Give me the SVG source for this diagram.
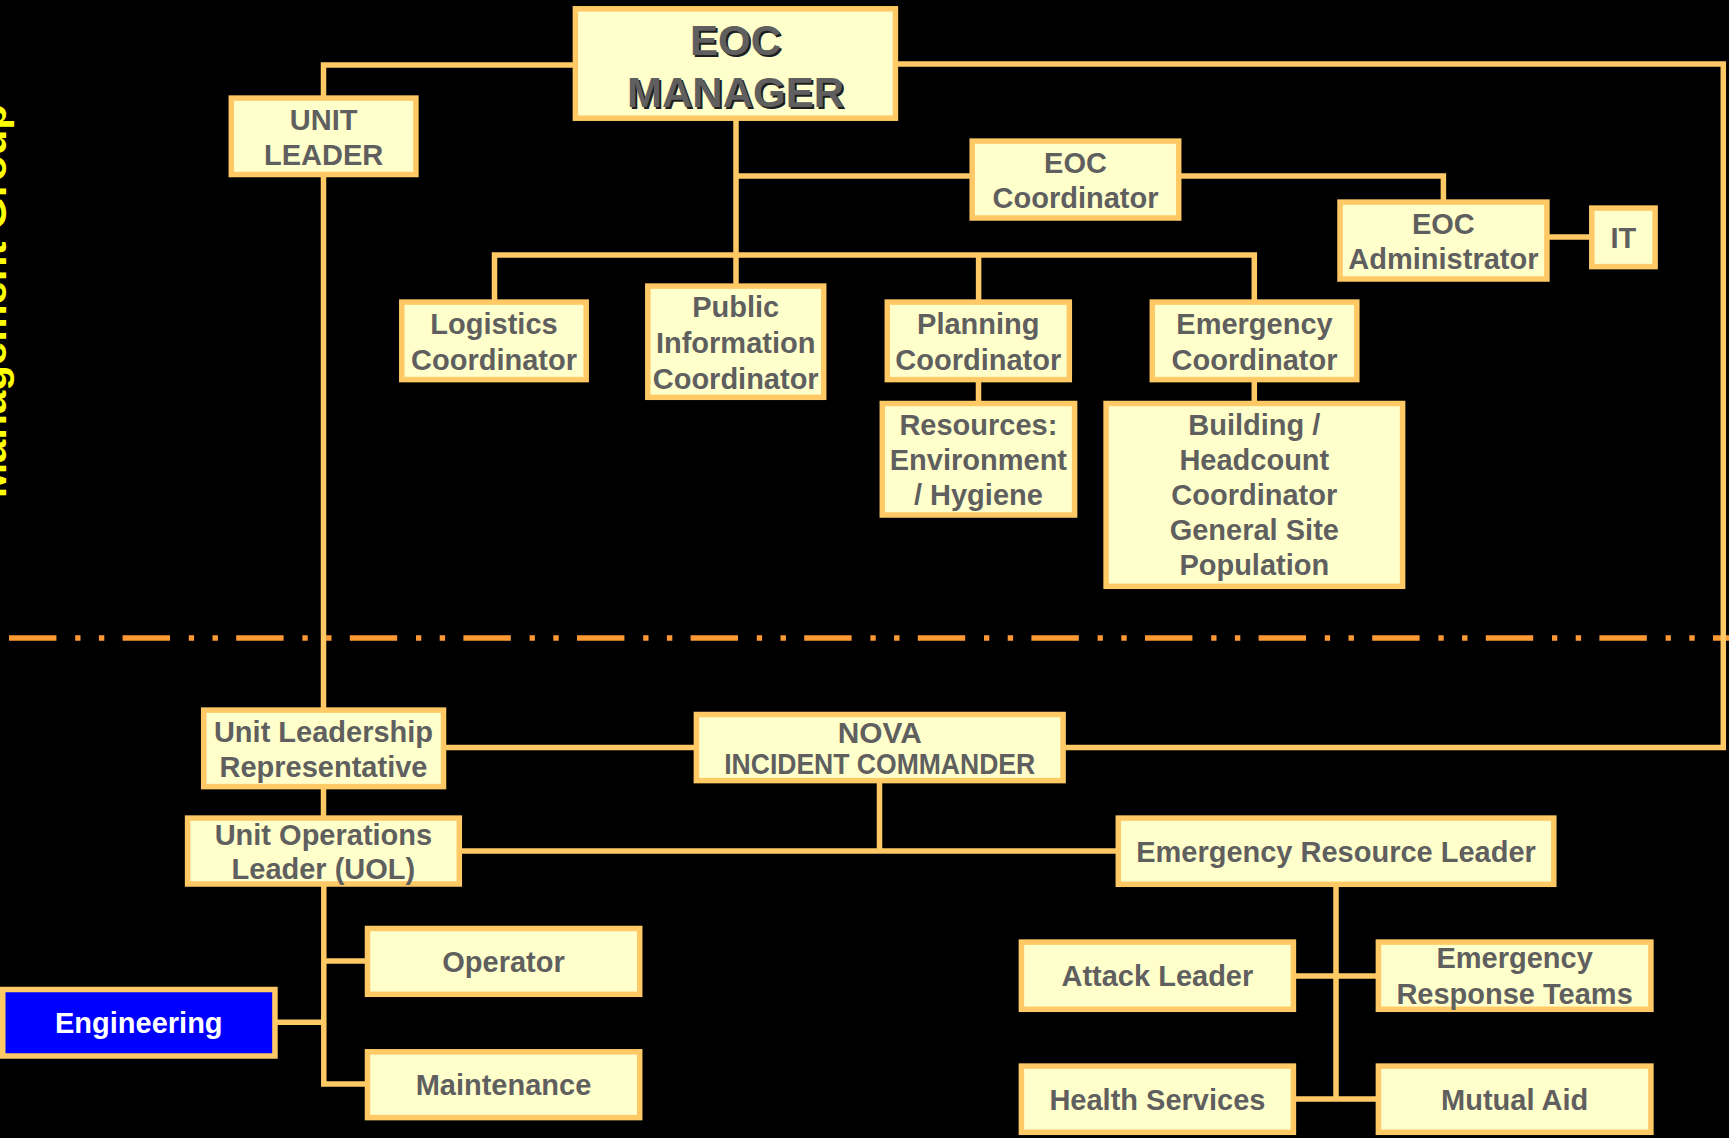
<svg xmlns="http://www.w3.org/2000/svg" width="1729" height="1138" viewBox="0 0 1729 1138">
<style>
.box{fill:#FFFFCC;stroke:#FFC965;stroke-width:5.5}
.eng{fill:#0000FF;stroke:#FFC965;stroke-width:5.5}
.t{font-family:"Liberation Sans",Arial,sans-serif;font-weight:bold;font-size:29px;fill:#5F5F5F;text-anchor:middle}
.tw{font-family:"Liberation Sans",Arial,sans-serif;font-weight:bold;font-size:29px;fill:#FFFFFF;text-anchor:middle}
.big{font-family:"Liberation Sans",Arial,sans-serif;font-weight:bold;font-size:42px;text-anchor:middle}
.c{fill:none;stroke:#FFC965;stroke-width:5.5;stroke-linejoin:miter;stroke-linecap:butt}
</style>
<rect x="0" y="0" width="1729" height="1138" fill="#000000"/>
<text x="0" y="0" transform="translate(6,498) rotate(-90)" font-family="Liberation Sans, Arial, sans-serif" font-weight="bold" font-size="40" fill="#FFFF00" textLength="394" lengthAdjust="spacingAndGlyphs">Management Group</text>
<line x1="9" y1="638" x2="1729" y2="638" stroke="#FF9933" stroke-width="5.6" stroke-dasharray="47.4 18.8 5.3 18.4 5.4 18.3"/>
<g id="connectors">
<path class="c" d="M323.5 98 V65 H575"/>
<path class="c" d="M323.5 175 V710"/>
<path class="c" d="M896 64 H1723.3 V747.5 H1063"/>
<path class="c" d="M736 119 V286"/>
<path class="c" d="M736 176 H972"/>
<path class="c" d="M1179 176 H1443.4 V202"/>
<path class="c" d="M1547 237 H1592"/>
<path class="c" d="M494.5 302 V255 H1254.3 V302"/>
<path class="c" d="M978.6 255 V302"/>
<path class="c" d="M978.5 380 V403"/>
<path class="c" d="M1254.3 380 V403"/>
<path class="c" d="M444 747.5 H696"/>
<path class="c" d="M323.5 787 V818"/>
<path class="c" d="M879.5 781 V851"/>
<path class="c" d="M460 851 H1118"/>
<path class="c" d="M323.8 884 V1084 H367"/>
<path class="c" d="M323.8 961 H367"/>
<path class="c" d="M275 1022.3 H323.8"/>
<path class="c" d="M1336 885 V1099"/>
<path class="c" d="M1294 976 H1378"/>
<path class="c" d="M1294 1099 H1378"/>
</g>
<g id="eoc-manager">
<rect class="box" x="575.4" y="8.8" width="320" height="109.4"/>
<text class="big" x="737.5" y="57" fill="#1E1E1E">EOC</text>
<text class="big" x="737.5" y="109" fill="#1E1E1E">MANAGER</text>
<text class="big" x="735.5" y="55" fill="#5F5F5F">EOC</text>
<text class="big" x="735.5" y="107" fill="#5F5F5F">MANAGER</text>
</g>
<g id="unit-leader">
<rect class="box" x="231.3" y="98.1" width="184.6" height="76.4"/>
<text class="t" x="323.6" y="130">UNIT</text>
<text class="t" x="323.6" y="165">LEADER</text>
</g>
<g id="eoc-coordinator">
<rect class="box" x="972.2" y="141.1" width="206.5" height="76.9"/>
<text class="t" x="1075.5" y="172.7">EOC</text>
<text class="t" x="1075.5" y="208.3">Coordinator</text>
</g>
<g id="eoc-administrator">
<rect class="box" x="1340" y="202.1" width="206.9" height="76.9"/>
<text class="t" x="1443.4" y="233.7">EOC</text>
<text class="t" x="1443.4" y="269.3">Administrator</text>
</g>
<g id="it">
<rect class="box" x="1591.8" y="208.1" width="63.3" height="58.5"/>
<text class="t" x="1623.4" y="247.8">IT</text>
</g>
<g id="logistics">
<rect class="box" x="401.8" y="302.1" width="184.4" height="77.5"/>
<text class="t" x="494" y="334.3">Logistics</text>
<text class="t" x="494" y="370">Coordinator</text>
</g>
<g id="public-information">
<rect class="box" x="647.8" y="286.1" width="175.9" height="111.2"/>
<text class="t" x="735.7" y="317">Public</text>
<text class="t" x="735.7" y="353">Information</text>
<text class="t" x="735.7" y="389">Coordinator</text>
</g>
<g id="planning">
<rect class="box" x="887.3" y="302.1" width="182" height="77.5"/>
<text class="t" x="978.3" y="334.3">Planning</text>
<text class="t" x="978.3" y="370">Coordinator</text>
</g>
<g id="emergency-coordinator">
<rect class="box" x="1152.3" y="302.1" width="204.5" height="77.5"/>
<text class="t" x="1254.5" y="334.3">Emergency</text>
<text class="t" x="1254.5" y="370">Coordinator</text>
</g>
<g id="resources">
<rect class="box" x="882.3" y="403.5" width="192.3" height="111.5"/>
<text class="t" x="978.4" y="435">Resources:</text>
<text class="t" x="978.4" y="470">Environment</text>
<text class="t" x="978.4" y="505">/ Hygiene</text>
</g>
<g id="building">
<rect class="box" x="1106.1" y="403.5" width="296.5" height="182.8"/>
<text class="t" x="1254.3" y="435">Building /</text>
<text class="t" x="1254.3" y="470">Headcount</text>
<text class="t" x="1254.3" y="505">Coordinator</text>
<text class="t" x="1254.3" y="540">General Site</text>
<text class="t" x="1254.3" y="575">Population</text>
</g>
<g id="unit-leadership-representative">
<rect class="box" x="203.7" y="710.1" width="239.8" height="76.5"/>
<text class="t" x="323.5" y="741.7">Unit Leadership</text>
<text class="t" x="323.5" y="777">Representative</text>
</g>
<g id="nova-incident-commander">
<rect class="box" x="696.4" y="714.5" width="366.7" height="66.1"/>
<text class="t" x="879.7" y="742.7" font-size="28" textLength="84" lengthAdjust="spacingAndGlyphs">NOVA</text>
<text class="t" x="879.7" y="774" font-size="25" textLength="311" lengthAdjust="spacingAndGlyphs">INCIDENT COMMANDER</text>
</g>
<g id="unit-operations-leader">
<rect class="box" x="187.6" y="818.1" width="271.7" height="65.9"/>
<text class="t" x="323.4" y="845">Unit Operations</text>
<text class="t" x="323.4" y="879">Leader (UOL)</text>
</g>
<g id="emergency-resource-leader">
<rect class="box" x="1118.3" y="818.1" width="435.5" height="66.2"/>
<text class="t" x="1336" y="861.5">Emergency Resource Leader</text>
</g>
<g id="operator">
<rect class="box" x="367.5" y="928.5" width="272.2" height="65.8"/>
<text class="t" x="503.5" y="971.5">Operator</text>
</g>
<g id="engineering">
<rect class="eng" x="2.75" y="989.5" width="272.2" height="66.5"/>
<text class="tw" x="138.8" y="1033">Engineering</text>
</g>
<g id="maintenance">
<rect class="box" x="367.5" y="1051.8" width="272.2" height="65.8"/>
<text class="t" x="503.5" y="1094.8">Maintenance</text>
</g>
<g id="attack-leader">
<rect class="box" x="1021.4" y="942.1" width="272" height="67.2"/>
<text class="t" x="1157.4" y="986.3">Attack Leader</text>
</g>
<g id="emergency-response-teams">
<rect class="box" x="1378.4" y="942.1" width="272.5" height="67.2"/>
<text class="t" x="1514.6" y="968">Emergency</text>
<text class="t" x="1514.6" y="1004">Response Teams</text>
</g>
<g id="health-services">
<rect class="box" x="1021.4" y="1066.1" width="272" height="66.2"/>
<text class="t" x="1157.4" y="1109.8">Health Services</text>
</g>
<g id="mutual-aid">
<rect class="box" x="1378.4" y="1066.1" width="272.5" height="66.2"/>
<text class="t" x="1514.6" y="1109.8">Mutual Aid</text>
</g>
</svg>
